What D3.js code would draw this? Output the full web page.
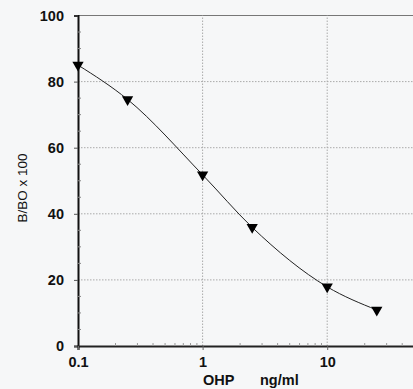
<!DOCTYPE html>
<html><head><meta charset="utf-8">
<script src="https://cdn.jsdelivr.net/npm/d3@7"></script>
<style>body{margin:0;background:#f6f7f8;}svg{display:block;}</style>
</head><body>
<script>
const concentrations = [0.1, 0.25, 1, 2.5, 10, 25];
const bbo = [85, 74.6, 51.8, 35.9, 17.9, 10.9];
const xTickLabels = ["0.1", "1", "10"];
const yTicks = [0, 20, 40, 60, 80, 100];
const xTitle1 = "OHP", xTitle2 = "ng/ml", yTitle = "B/BO x 100";

const W = 413, H = 389;
const svg = d3.select("body").append("svg").attr("width", W).attr("height", H);
svg.append("rect").attr("width", W).attr("height", H).attr("fill", "#f6f7f8");

const x = d3.scaleLog().domain([0.1, 100]).range([78, 78 + 3 * 124.6]);
const y = d3.scaleLinear().domain([0, 100]).range([346, 15.5]);
const font = "Liberation Sans, Arial, sans-serif";
const fs = 14.5;

// grid
const grid = svg.append("g");
[20, 40, 60, 80, 100].forEach(v => {
  grid.append("line").attr("x1", x(0.1)).attr("x2", W).attr("y1", y(v)).attr("y2", y(v))
    .attr("stroke", v === 100 ? "#777" : "#aaa").attr("stroke-width", 1)
    .attr("stroke-dasharray", v === 100 ? null : "1.5,1.5");
});
[1, 10].forEach(v => {
  grid.append("line").attr("x1", x(v)).attr("x2", x(v)).attr("y1", y(0)).attr("y2", y(100))
    .attr("stroke", "#aaa").attr("stroke-dasharray", "1.5,1.5");
});

// y axis
const yAxis = d3.axisLeft(y).tickValues(yTicks).tickSize(4).tickFormat(d3.format("d"));
const gy = svg.append("g").attr("transform", `translate(${x(0.1)},0)`).call(yAxis);
gy.select(".domain").attr("stroke", "#111").attr("stroke-width", 2);
gy.selectAll("text").attr("font-family", font).attr("font-size", fs).attr("font-weight", "bold").attr("fill", "#111").attr("x", -14);
gy.selectAll(".tick line").attr("stroke", "#555");
// minor y ticks
const minorY = d3.range(5, 100, 5).filter(v => v % 20 !== 0);
svg.append("g").selectAll("line").data(minorY).join("line")
  .attr("x1", x(0.1) - 1).attr("x2", x(0.1) + 3).attr("y1", d => y(d)).attr("y2", d => y(d))
  .attr("stroke", "#888");

// x axis
const xAxis = d3.axisBottom(x).tickValues([0.1, 1, 10]).tickSize(4).tickFormat((d, i) => xTickLabels[i]);
const gx = svg.append("g").attr("transform", `translate(0,${y(0)})`).call(xAxis);
gx.select(".domain").attr("stroke", "#222").attr("stroke-width", 2.2);
gx.selectAll("text").attr("font-family", font).attr("font-size", fs).attr("font-weight", "bold").attr("fill", "#111").attr("dy", "0.95em");
gx.selectAll(".tick line").attr("stroke", "#666");
const minorX = [];
[0.1, 1, 10].forEach(d => { for (let k = 2; k <= 9; k++) minorX.push(d * k); });
svg.append("g").selectAll("line").data(minorX).join("line")
  .attr("x1", d => x(d)).attr("x2", d => x(d)).attr("y1", y(0)).attr("y2", y(0) - 3)
  .attr("stroke", "#999");

// titles
svg.append("text").attr("x", 203).attr("y", 385).attr("font-family", font).attr("font-size", fs)
  .attr("font-weight", "bold").attr("fill", "#111").text(xTitle1);
svg.append("text").attr("x", 260).attr("y", 385).attr("font-family", font).attr("font-size", fs)
  .attr("font-weight", "bold").attr("fill", "#111").text(xTitle2);
svg.append("text").attr("transform", "translate(27,188) rotate(-90)").attr("text-anchor", "middle")
  .attr("font-family", font).attr("font-size", 13.5).attr("fill", "#111").text(yTitle);

// curve
const pts = concentrations.map((c, i) => [c, bbo[i]]);
const line = d3.line().x(d => x(d[0])).y(d => y(d[1])).curve(d3.curveMonotoneX);
svg.append("path").attr("d", line(pts)).attr("fill", "none").attr("stroke", "#222").attr("stroke-width", 1);

// markers (down triangles)
const tri = d3.symbol().type(d3.symbolTriangle).size(55);
svg.append("g").selectAll("path").data(pts).join("path")
  .attr("d", tri).attr("transform", d => `translate(${x(d[0])},${y(d[1])}) rotate(180)`)
  .attr("fill", "#000");
</script>
</body></html>
